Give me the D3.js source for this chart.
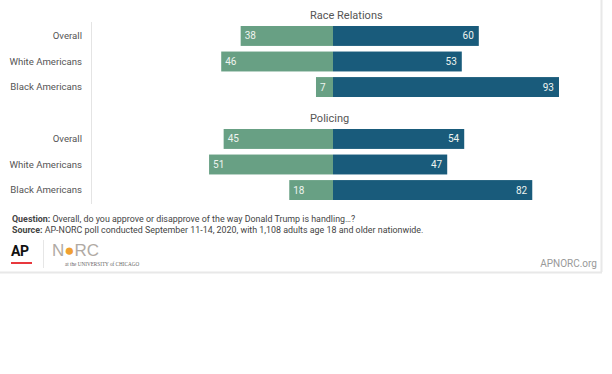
<!DOCTYPE html>
<html>
<head>
<meta charset="utf-8">
<script src="https://cdn.jsdelivr.net/npm/d3@7"></script>
<style>
  body { margin: 0; background: #fff; }
  svg { display: block; font-family: Roboto, sans-serif; }
</style>
</head>
<body>
<script>
const width = 612, height = 374;

const groups = ["Race Relations", "Policing"];
const categories = ["Overall", "White Americans", "Black Americans"];
const disapprove = [[38, 46, 7], [45, 51, 18]];
const approve = [[60, 53, 93], [54, 47, 82]];

const green = "#68a084", blue = "#195b7b";

const svg = d3.select("body").append("svg")
    .attr("width", width)
    .attr("height", height);

// frame lines
svg.append("line").attr("x1", 601.5).attr("x2", 601.5).attr("y1", 0).attr("y2", 272)
    .attr("stroke", "#e8e8e8").attr("stroke-width", 2);
svg.append("line").attr("x1", 0).attr("x2", 602).attr("y1", 272.5).attr("y2", 272.5)
    .attr("stroke", "#e8e8e8").attr("stroke-width", 2);
svg.append("line").attr("x1", 91.5).attr("x2", 91.5).attr("y1", 22).attr("y2", 204)
    .attr("stroke", "#e4e4e4").attr("stroke-width", 1);

const x = d3.scaleLinear().domain([-100, 100]).range([333 - 243, 333 + 243]);

const groupTop = d3.scaleOrdinal().domain(groups).range([26, 129]);
const y = d3.scaleBand().domain(categories).range([0, 71]).paddingInner(0.22).paddingOuter(0);

groups.forEach((g, gi) => {
  const top = groupTop(g);
  const gg = svg.append("g").attr("transform", `translate(0,${top})`);

  gg.append("text")
      .attr("x", 310).attr("y", -7)
      .attr("font-size", 11).attr("fill", "#555")
      .text(g);

  const rows = categories.map((c, i) => ({c, d: disapprove[gi][i], a: approve[gi][i]}));

  gg.selectAll("text.cat").data(rows).enter().append("text")
      .attr("class", "cat")
      .attr("x", 82).attr("y", d => y(d.c) + y.bandwidth() / 2)
      .attr("dy", "0.35em").attr("text-anchor", "end")
      .attr("font-size", 9.6).attr("fill", "#555")
      .text(d => d.c);

  gg.selectAll("rect.dis").data(rows).enter().append("rect")
      .attr("class", "dis")
      .attr("x", d => x(-d.d)).attr("width", d => x(0) - x(-d.d))
      .attr("y", d => y(d.c)).attr("height", y.bandwidth())
      .attr("fill", green);

  gg.selectAll("rect.app").data(rows).enter().append("rect")
      .attr("class", "app")
      .attr("x", x(0)).attr("width", d => x(d.a) - x(0))
      .attr("y", d => y(d.c)).attr("height", y.bandwidth())
      .attr("fill", blue);

  gg.selectAll("text.dv").data(rows).enter().append("text")
      .attr("class", "dv")
      .attr("x", d => x(-d.d) + 4).attr("y", d => y(d.c) + y.bandwidth() / 2)
      .attr("dy", "0.35em").attr("font-size", 10).attr("fill", "#eef3ef")
      .text(d => d.d);

  gg.selectAll("text.av").data(rows).enter().append("text")
      .attr("class", "av")
      .attr("x", d => x(d.a) - 5).attr("y", d => y(d.c) + y.bandwidth() / 2)
      .attr("dy", "0.35em").attr("text-anchor", "end")
      .attr("font-size", 10).attr("fill", "#eef3ef")
      .text(d => d.a);
});

// notes
const note1 = svg.append("text").attr("x", 12).attr("y", 222).attr("font-size", 8.9).attr("fill", "#444");
note1.append("tspan").attr("font-weight", "bold").text("Question:");
note1.append("tspan").text(" Overall, do you approve or disapprove of the way Donald Trump is handling…?");
const note2 = svg.append("text").attr("x", 12).attr("y", 233).attr("font-size", 8.9).attr("fill", "#444");
note2.append("tspan").attr("font-weight", "bold").text("Source:");
note2.append("tspan").text(" AP-NORC poll conducted September 11-14, 2020, with 1,108 adults age 18 and older nationwide.");

// logos
svg.append("text").attr("x", 11).attr("y", 256).attr("font-size", 14).attr("font-weight", "bold")
    .attr("fill", "#111").attr("letter-spacing", -0.5).text("AP");
svg.append("rect").attr("x", 11).attr("y", 262).attr("width", 21).attr("height", 2).attr("fill", "#e8383d");
svg.append("line").attr("x1", 43.5).attr("x2", 43.5).attr("y1", 240).attr("y2", 268).attr("stroke", "#e6e6e6");
const norc = svg.append("text").attr("x", 52).attr("y", 256).attr("font-size", 17).attr("fill", "#b0aaa4")
    .attr("font-family", "Liberation Sans, sans-serif");
norc.append("tspan").text("N");
norc.append("tspan").attr("fill", "#f0a030").text("●");
norc.append("tspan").text("RC");
svg.append("text").attr("x", 65).attr("y", 266).attr("font-size", 5.2).attr("fill", "#666")
    .attr("font-family", "Liberation Serif, serif").text("at the UNIVERSITY of CHICAGO");

svg.append("text").attr("x", 597).attr("y", 267).attr("text-anchor", "end")
    .attr("font-size", 10).attr("fill", "#999").text("APNORC.org");
</script>
</body>
</html>
